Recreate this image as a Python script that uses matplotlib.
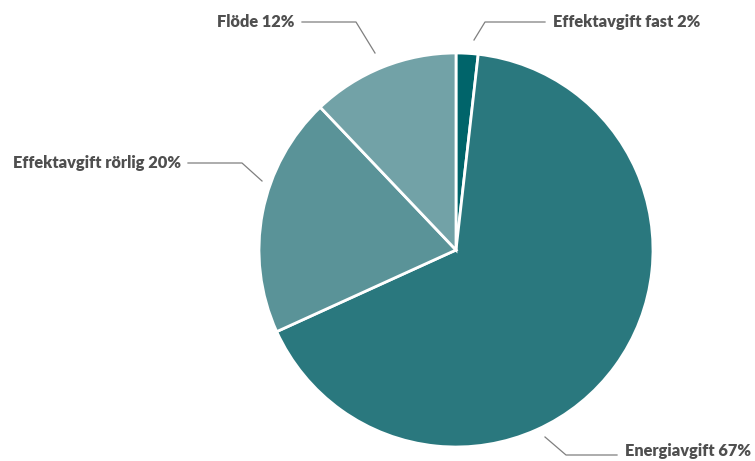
import matplotlib
matplotlib.use("Agg")
import matplotlib.pyplot as plt

# andelar av kostnaden (procent)
categories = ["Effektavgift fast", "Energiavgift", "Effektavgift rörlig", "Flöde"]
shares = [1.8, 66.4, 19.7, 12.1]
pct_labels = ["2%", "67%", "20%", "12%"]
colors = ["#00646a", "#2a787e", "#5a9398", "#72a2a7"]

W, H = 755, 461
fig = plt.figure(figsize=(W / 100, H / 100), dpi=100)

cx, cy, r = 456, 250, 197
ax = fig.add_axes([(cx - r) / W, (H - cy - r) / H, 2 * r / W, 2 * r / H])
ax.pie(shares, colors=colors, startangle=90, counterclock=False, radius=1,
       wedgeprops=dict(edgecolor="white", linewidth=2))
ax.set_xlim(-1, 1)
ax.set_ylim(-1, 1)
ax.set_axis_off()

# label layout in pixels from top-left: text anchor, alignment, leader polyline
layout = [
    ((553, 22), "left", [(545, 22), (485, 22), (474, 40)]),
    ((625, 451), "left", [(617, 455), (566, 455), (545, 437)]),
    ((181, 163), "right", [(188, 163), (242, 163), (262, 181)]),
    ((294, 22), "right", [(302, 22), (356, 22), (375, 53)]),
]

for name, pct, (pos, ha, line) in zip(categories, pct_labels, layout):
    xs = [p[0] / W for p in line]
    ys = [1 - p[1] / H for p in line]
    fig.add_artist(plt.Line2D(xs, ys, color="#7f7f7f", linewidth=0.9,
                              transform=fig.transFigure))
    fig.text(pos[0] / W, 1 - pos[1] / H, f"{name} {pct}", ha=ha, va="center",
             fontsize=11.8, fontweight="heavy", color="#4f4f4f", family="Lato")

fig.savefig("out.png", dpi=100)
